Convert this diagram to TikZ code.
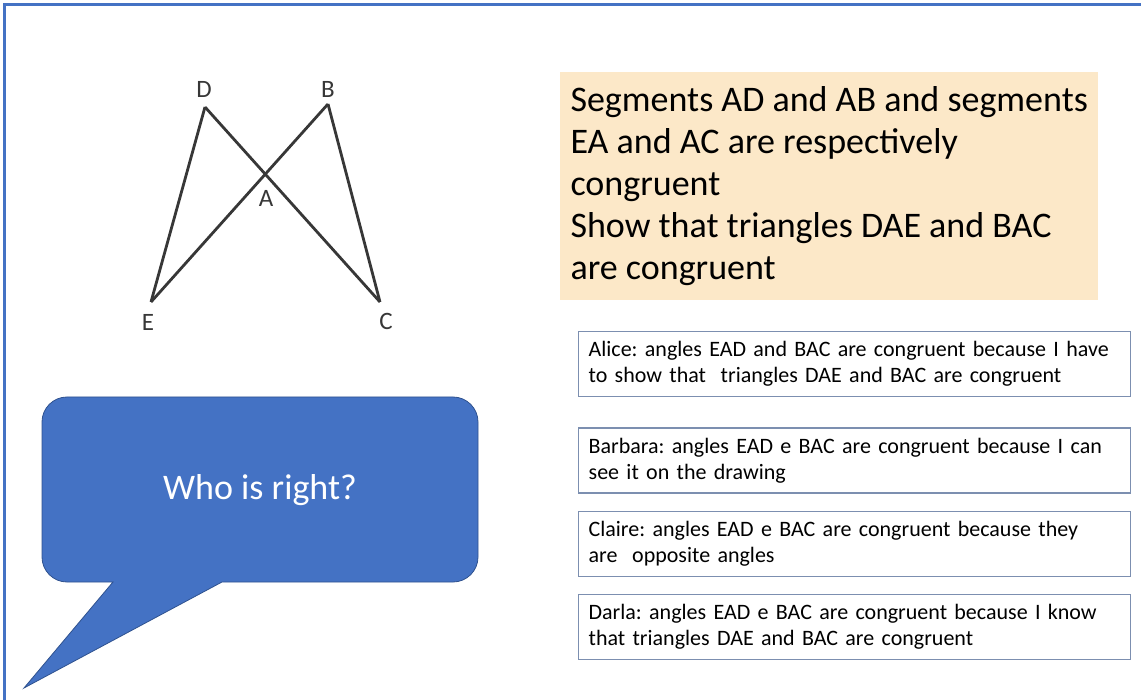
\documentclass[tikz,border=0pt]{standalone}
\usepackage{fontspec}
\setmainfont{Carlito}
\frenchspacing
\usetikzlibrary{positioning}
\definecolor{slideblue}{RGB}{68,114,196}
\definecolor{darkblue}{RGB}{47,82,143}
\definecolor{peach}{RGB}{252,232,200}
\definecolor{boxline}{RGB}{124,143,176}
\definecolor{inkgray}{RGB}{55,55,55}
\tikzstyle{segment}=[draw=inkgray,line width=2.8pt]
\tikzstyle{vlabel}=[text=inkgray,font=\fontsize{25}{27}\selectfont,inner sep=0pt]
\tikzstyle{problem}=[fill=peach,align=left,minimum width=538pt,minimum height=228pt,inner sep=0pt,font=\fontsize{36}{42}\selectfont]
\tikzstyle{stmt}=[draw=boxline,line width=1.3pt,fill=white,align=left,text width=532pt,inner xsep=10pt,inner ysep=3pt,minimum height=65pt,font=\fontsize{22}{26}\selectfont]

\begin{document}
\begin{tikzpicture}[x=1pt,y=-1pt]
    \useasboundingbox (0,0) rectangle (1141,700);
    % slide frame
    \draw[slideblue,line width=3pt] (4,700) -- (4,5) -- (1141,5);

    % the figure
    \coordinate (D) at (205,107);
    \coordinate (B) at (328,104);
    \coordinate (E) at (151,302);
    \coordinate (C) at (380,302);
    \foreach \from/\to in {D/E,D/C,B/E,B/C}
    \draw[segment] (\from) -- (\to);
    \node[vlabel] (lD) at (204,89)  {D};
    \node[vlabel] (lB) at (328,89)  {B};
    \node[vlabel] (lE) at (148,322) {E};
    \node[vlabel] (lC) at (386,321) {C};
    \node[vlabel] (lA) at (266,198) {A};

    % speech bubble
    \filldraw[fill=slideblue,draw=darkblue,line width=0.8pt]
      (67,397) -- (453,397) arc(-90:0:25) -- (478,557) arc(0:90:25)
      -- (222,582) -- (24,688) -- (113,582) -- (67,582) arc(90:180:25)
      -- (42,422) arc(180:270:25) -- cycle;
    \node[text=white,font=\fontsize{36}{42}\selectfont] (who) at (260,490) {Who is right?};

    % problem statement
    \node[problem,anchor=north west] (task) at (560,72)
      {Segments AD and AB and segments\\EA and AC are respectively\\congruent\\Show that triangles DAE and BAC\\are congruent};

    % the four answers
    \node[stmt,anchor=north west] (alice) at (578,331)
      {Alice: angles EAD and BAC are congruent because I have\\to show that~ triangles DAE and BAC are congruent};
    \node[stmt,below=30pt of alice] (barbara)
      {Barbara: angles EAD e BAC are congruent because I can\\see it on the drawing};
    \node[stmt,below=17pt of barbara] (claire)
      {Claire: angles EAD e BAC are congruent because they\\are~ opposite angles};
    \node[stmt,below=17pt of claire] (darla)
      {Darla: angles EAD e BAC are congruent because I know\\that triangles DAE and BAC are congruent};
\end{tikzpicture}
\end{document}
